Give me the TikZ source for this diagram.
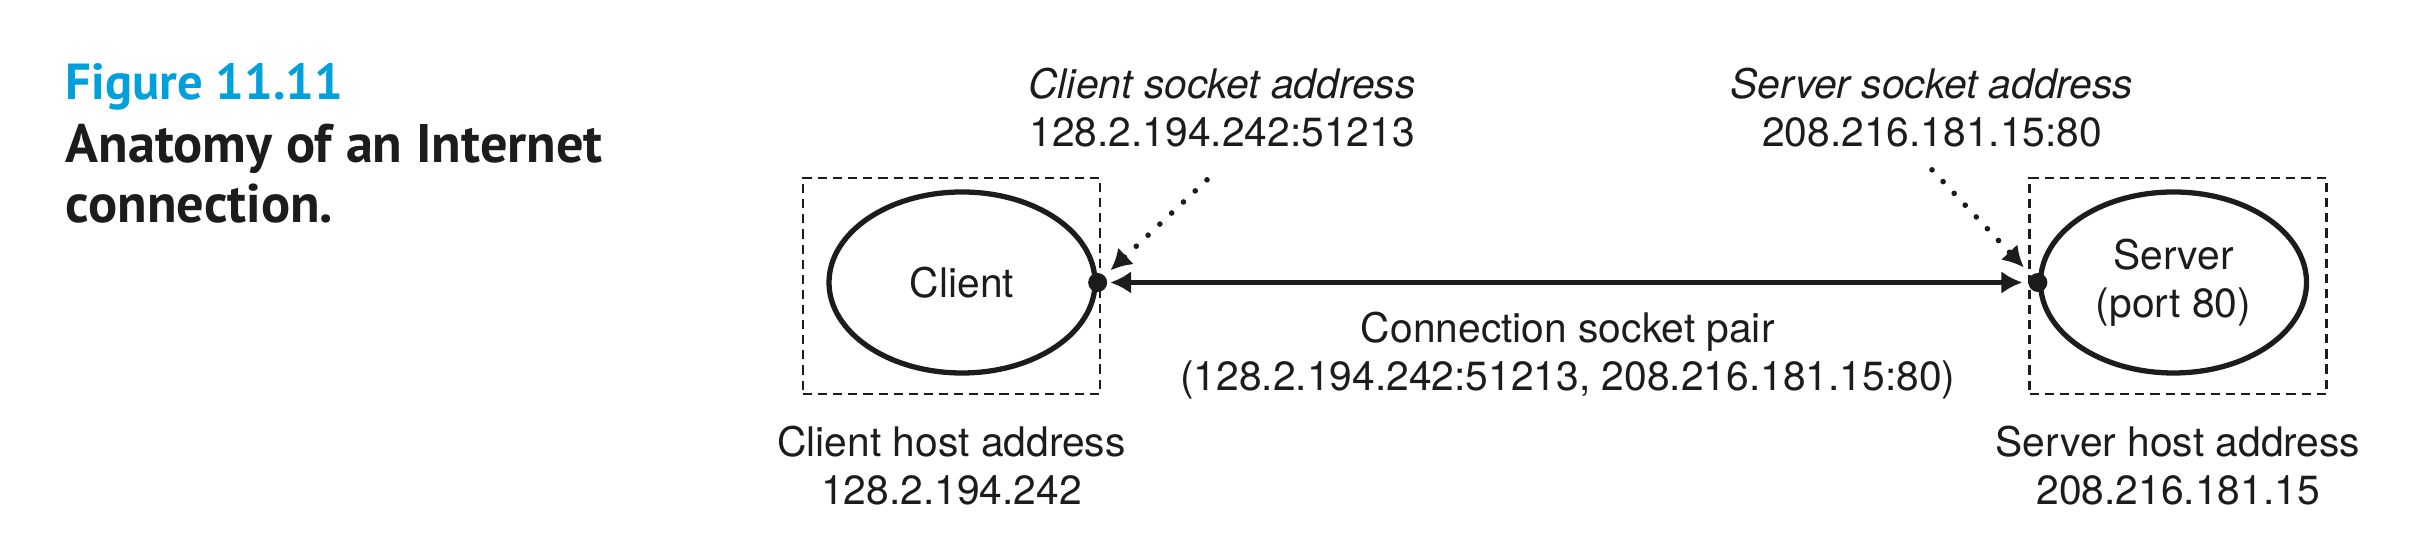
\documentclass[tikz,border=0pt]{standalone}
\usepackage{fontspec}
\setmainfont{TeX Gyre Heros}
\newfontfamily\captionfont{PT Sans}
\usepackage{xcolor}
\usetikzlibrary{shapes.geometric,arrows.meta,positioning}
\definecolor{figblue}{RGB}{0,160,220}
\definecolor{ink}{RGB}{28,28,28}

\begin{document}
\begin{tikzpicture}[
    font=\fontsize{11.6}{13.66}\selectfont, color=ink,
    hostbox/.style={rectangle, draw, dash pattern=on 2.6pt off 1.7pt, line width=0.8pt, minimum width=2.97cm, minimum height=2.16cm, inner sep=0pt},
    proc/.style={ellipse, draw, line width=1.5pt, minimum width=2.66cm, minimum height=1.81cm, inner sep=0pt, align=center},
    sockdot/.style={circle, fill, inner sep=0pt, outer sep=0pt, minimum size=1.9mm},
    tag/.style={align=center, inner sep=1pt},
    caption/.style={anchor=base west, inner sep=0pt, align=left, font=\captionfont\bfseries\fontsize{15.45}{17.3}\selectfont},
    pairarrow/.style={{Latex[length=6pt,width=6.5pt]}-{Latex[length=6pt,width=6.5pt]}, line width=1.3pt},
    sockarrow/.style={-{Latex[length=6pt,width=6.5pt]}, line width=1.6pt, dash pattern=on 0pt off 4.6pt, line cap=round}
]
    \useasboundingbox (0,0) rectangle (24.26,5.58);

    % caption
    \node[caption, text=figblue, font=\captionfont\bfseries\fontsize{14.4}{17.3}\selectfont] (figno) at (0.65,4.58) {Figure 11.11};
    \node[caption] (figtitle) at (0.65,3.35) {Anatomy of an Internet\\connection.};

    % hosts and processes
    \node[hostbox] (chost) at (9.515,2.72) {};
    \node[hostbox] (shost) at (21.78,2.72) {};
    \node[proc] (client) at ([shift={(0.105,0.035)}]chost.center) {Client};
    \node[proc] (server) at ([shift={(-0.045,0.035)}]shost.center) {Server\\(port 80)};
    \node[sockdot] (cdot) at (client.east) {};
    \node[sockdot] (sdot) at (server.west) {};

    % addresses
    \node[tag, anchor=base] (csock) at (12.22,4.11) {\textit{Client socket address}\\128.2.194.242:51213};
    \node[tag, anchor=base] (ssock) at (19.32,4.11) {\textit{Server socket address}\\208.216.181.15:80};
    \node[tag, below=0.26cm of chost] (caddr) {Client host address\\128.2.194.242};
    \node[tag, below=0.26cm of shost] (saddr) {Server host address\\208.216.181.15};

    \draw[pairarrow, shorten <=0.3mm, shorten >=0.6mm] (cdot) -- (sdot)
        node[tag, midway, below=0.24cm] (cpair) {Connection socket pair\\(128.2.194.242:51213, 208.216.181.15:80)};
    \draw[sockarrow, shorten >=0.8mm] ([xshift=-0.15cm,yshift=-0.28cm]csock.south) -- (cdot);
    \draw[sockarrow, shorten >=1.1mm] ([yshift=-0.18cm]ssock.south) -- (sdot);
\end{tikzpicture}
\end{document}
